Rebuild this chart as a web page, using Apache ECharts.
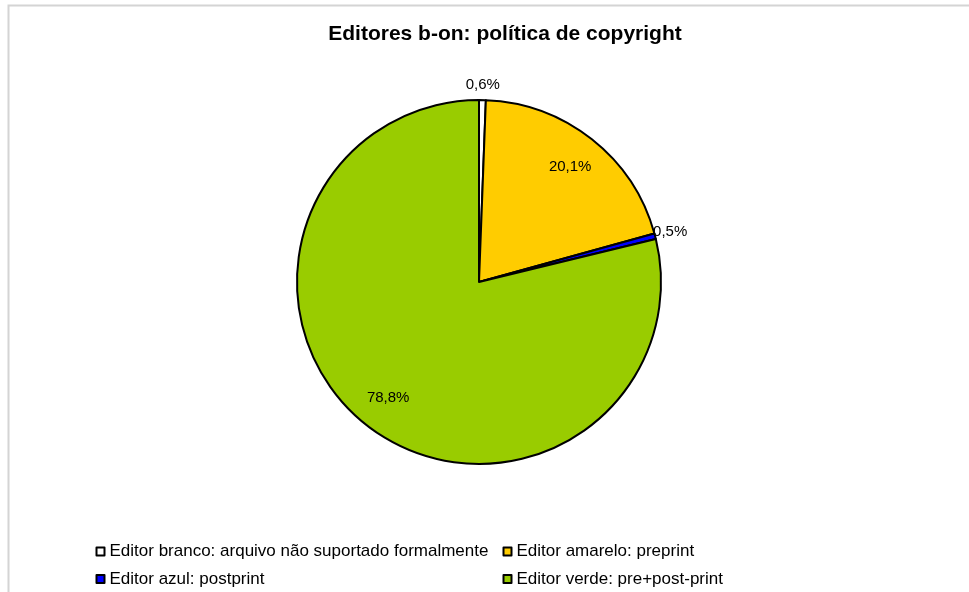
<!DOCTYPE html>
<html>
<head>
<meta charset="utf-8">
<script src="https://cdn.jsdelivr.net/npm/echarts@6/dist/echarts.min.js"></script>
<style>
html,body{margin:0;padding:0;background:#fff;}
#chart{width:969px;height:592px;}
</style>
</head>
<body>
<div id="chart"></div>
<script>
const titleText = 'Editores b-on: política de copyright';
const categories = [
  'Editor branco: arquivo não suportado formalmente',
  'Editor amarelo: preprint',
  'Editor azul: postprint',
  'Editor verde: pre+post-print'
];
const shares = [0.6, 20.1, 0.5, 78.8];
const sliceColors = ['#FFFFFF', '#FFCC00', '#0000FF', '#99CC00'];
const legendLeftCol = [categories[0], categories[2]];
const legendRightCol = [categories[1], categories[3]];

const fmt = v => v.toFixed(1).replace('.', ',') + '%';
const FONT = '"Liberation Sans", Arial, Helvetica, sans-serif';
const center = [479, 282];
const R = 182;

const mainData = categories.map((n, i) => ({
  name: n, value: shares[i],
  itemStyle: { color: sliceColors[i] }
}));
const labelData = (inside) => categories.map((n, i) => ({
  name: n, value: shares[i],
  label: { show: inside ? shares[i] >= 5 : shares[i] < 5 }
}));

const labelStyle = {
  position: 'inside', rotate: 0, color: '#000', fontSize: 15, fontFamily: FONT,
  formatter: p => fmt(p.value)
};

const legendItems = arr => arr.map(n => ({
  name: n, itemStyle: { color: sliceColors[categories.indexOf(n)], borderColor: '#000', borderWidth: 2 }
}));

const legendBase = {
  orient: 'vertical', top: 543, padding: 0, itemGap: 10.5,
  itemWidth: 8, itemHeight: 8, icon: 'rect', selectedMode: false,
  textStyle: { color: '#000', fontSize: 17, lineHeight: 17, fontFamily: FONT }
};

const chart = echarts.init(document.getElementById('chart'), null, { renderer: 'canvas' });
chart.setOption({
  animation: false,
  backgroundColor: '#fff',
  title: {
    text: titleText, left: 505, top: 24, padding: 0, textAlign: 'center',
    textStyle: { fontSize: 21, fontWeight: 'bold', color: '#000', fontFamily: FONT }
  },
  graphic: [{
    type: 'rect', silent: true, z: -10,
    shape: { x: 8.5, y: 5.5, width: 2000, height: 2000 },
    style: { fill: 'none', stroke: '#d4d4d4', lineWidth: 2 }
  }],
  legend: [
    Object.assign({}, legendBase, { left: 95.5, data: legendItems(legendLeftCol) }),
    Object.assign({}, legendBase, { left: 502.5, data: legendItems(legendRightCol) })
  ],
  series: [
    {
      type: 'pie', center: center, radius: [0, R], startAngle: 90, clockwise: true,
      avoidLabelOverlap: false, silent: true,
      itemStyle: { borderColor: '#000', borderWidth: 2 },
      label: { show: false }, labelLine: { show: false },
      data: mainData
    },
    {
      type: 'pie', center: center, radius: [106, R], startAngle: 90, clockwise: true,
      avoidLabelOverlap: false, silent: true, z: 5,
      itemStyle: { color: 'rgba(0,0,0,0)', borderWidth: 0 },
      label: labelStyle, labelLine: { show: false },
      data: labelData(true)
    },
    {
      type: 'pie', center: center, radius: [R, 207], startAngle: 90, clockwise: true,
      avoidLabelOverlap: false, silent: true, z: 5,
      itemStyle: { color: 'rgba(0,0,0,0)', borderWidth: 0 },
      label: labelStyle, labelLine: { show: false },
      data: labelData(false)
    }
  ]
});
</script>
</body>
</html>
